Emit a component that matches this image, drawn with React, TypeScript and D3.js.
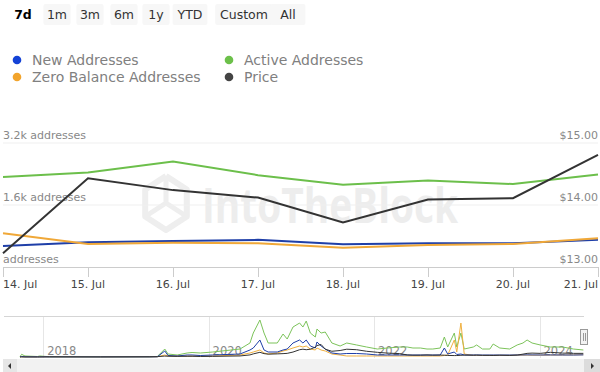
import React from 'react';
import * as d3 from 'd3';

// range selector
const rangeButtons = ['7d', '1m', '3m', '6m', '1y', 'YTD', 'Custom', 'All'];
const rangeButtonX = [23, 57, 90, 124, 156, 190, 244, 288];

// main chart (last 7 days)
const days = ['2024-07-14', '2024-07-15', '2024-07-16', '2024-07-17', '2024-07-18', '2024-07-19', '2024-07-20', '2024-07-21'];
const newAddresses = [540, 640, 670, 700, 590, 610, 610, 700];
const activeAddresses = [2320, 2440, 2720, 2370, 2120, 2230, 2140, 2390];
const zeroBalanceAddresses = [870, 595, 625, 610, 500, 570, 595, 740];
const price = [13.22, 14.43, 14.24, 14.12, 13.72, 14.09, 14.11, 14.81];

const addrTicks = [0, 1600, 3200];
const addrTickLabels = ['addresses', '1.6k addresses', '3.2k addresses'];
const priceTicks = [13, 14, 15];

// navigator (full history), decimal years
const navYears = [2017.72, 2017.74, 2017.78, 2017.93, 2017.96, 2018.08, 2018.69, 2019.29, 2019.38, 2019.47, 2019.51, 2019.62, 2019.74, 2019.8, 2019.9,
  2020.05, 2020.38, 2020.5, 2020.54, 2020.62, 2020.67, 2020.72, 2020.83, 2020.9, 2020.95, 2021.02, 2021.1, 2021.14, 2021.18, 2021.23,
  2021.29, 2021.31, 2021.36, 2021.41, 2021.49, 2021.59, 2021.67, 2021.79, 2021.91, 2022.04, 2022.16, 2022.31, 2022.4, 2022.47, 2022.56,
  2022.64, 2022.71, 2022.8, 2022.85, 2022.89, 2022.97, 2023.0, 2023.05, 2023.09, 2023.2, 2023.24, 2023.31, 2023.4, 2023.44, 2023.52,
  2023.64, 2023.73, 2023.8, 2023.85, 2023.91, 2024.01, 2024.13, 2024.28, 2024.41, 2024.53];
const navActive = [100, 880, 330, 160, 330, 60, 60, 80, 160, 2620, 980, 660, 1310, 1480, 1310,
  1640, 2620, 4590, 7870, 12140, 7870, 4590, 4590, 7540, 5900, 9840, 11150, 9840, 11800, 7870,
  6560, 9180, 7870, 8200, 4590, 3610, 4590, 3940, 3280, 2620, 2950, 3280, 3280, 2950, 2950,
  2620, 2620, 2950, 6560, 3280, 7870, 3280, 7870, 2620, 3280, 3940, 2620, 2620, 4260, 2950,
  2620, 3940, 4590, 5580, 4590, 3940, 3280, 3280, 2620, 2300];
const navNew = [30, 160, 60, 40, 50, 30, 30, 40, 60, 1970, 490, 330, 660, 660, 490,
  660, 980, 2300, 2950, 5580, 2300, 1640, 1640, 2300, 2620, 4590, 5580, 4590, 5580, 3610,
  2950, 4920, 3610, 2620, 1310, 980, 1150, 1150, 980, 660, 660, 660, 650, 640, 650,
  640, 650, 660, 2950, 980, 1640, 820, 980, 660, 650, 660, 640, 650, 660, 640,
  650, 660, 680, 700, 680, 660, 680, 660, 650, 700];
const navZero = [40, 60, 50, 40, 50, 40, 40, 60, 80, 650, 330, 330, 330, 330, 330,
  330, 650, 1310, 1640, 2300, 1310, 980, 1310, 1970, 2300, 2950, 3610, 3280, 3610, 2620,
  2300, 2950, 2300, 1970, 980, 650, 330, 330, 330, 330, 330, 330, 330, 330, 330,
  330, 330, 330, 490, 650, 5580, 1640, 11150, 980, 500, 520, 500, 540, 560, 520,
  560, 600, 620, 640, 600, 620, 640, 660, 700, 740];
const navPrice = [0.2, 0.3, 0.2, 0.15, 0.3, 1.0, 0.45, 1.0, 1.5, 3.5, 3.0, 2.5, 2.6, 2.8, 2.0,
  2.5, 4.0, 8, 12, 18, 13, 11, 12, 13, 14, 19, 28, 30, 28, 30,
  38, 44, 48, 30, 22, 25, 30, 28, 22, 18, 15, 13, 8, 7, 7,
  8, 7, 7.5, 7, 6, 5.5, 5.6, 6.5, 7.2, 7, 7.5, 6.5, 6.2, 5.8, 7,
  6, 7.5, 11, 14, 15, 14, 18, 15, 14, 14];
const navYearTicks = [2018, 2020, 2022, 2024];

const legendItems = [
  { name: 'New Addresses', color: '#1442d6' },
  { name: 'Active Addresses', color: '#6cc04a' },
  { name: 'Zero Balance Addresses', color: '#f2a42c' },
  { name: 'Price', color: '#444444' },
];

const FONT = '"DejaVu Sans", Verdana, sans-serif';

const App = () => {
  const width = 600;
  const height = 372;

  const x = d3.scaleTime()
    .domain([new Date(days[0]), new Date(days[days.length - 1])])
    .range([3, 598]);
  const yAddr = d3.scaleLinear().domain([0, 3200]).range([267, 143]);
  const yPrice = d3.scaleLinear().domain([13, 15]).range([267, 143]);

  const addrLine = (values: number[]) => d3.line<number>()
    .x((_, i) => x(new Date(days[i])))
    .y(d => yAddr(d))(values);
  const priceLine = d3.line<number>()
    .x((_, i) => x(new Date(days[i])))
    .y(d => yPrice(d))(price);

  const navX = d3.scaleLinear().domain([2017.72, 2024.55]).range([20, 585]);
  const navY = d3.scaleLinear().domain([0, 12800]).range([357, 318]);
  const navYPrice = d3.scaleLinear().domain([0, 150]).range([357, 318]);
  const navLine = (values: number[], yScale) => d3.line<number>()
    .x((_, i) => navX(navYears[i]))
    .y(d => yScale(d))(values);

  // watermark hexagon
  const hex = d3.range(6).map(i => {
    const a = Math.PI / 3 * i - Math.PI / 2;
    return [166 + 24 * Math.cos(a), 203 + 27 * Math.sin(a)] as [number, number];
  });

  return (
    <svg width={width} height={height} style={{ position: 'absolute', left: 0, top: 0, background: '#fff' }} fontFamily={FONT}>
      {/* range selector */}
      {rangeButtons.map((b, i) => i > 0 && (
        <rect key={b} x={rangeButtonX[i] - (b.length * 3.8 + 6)} y={4} width={b.length * 7.6 + 12} height={21} fill="#f7f7f7" rx={2} />
      ))}
      {rangeButtons.map((b, i) => (
        <text key={b} x={rangeButtonX[i]} y={18.5} textAnchor="middle" fontSize={12.5}
          fontWeight={i === 0 ? 'bold' : 'normal'} fill={i === 0 ? '#000' : '#333'}>{b}</text>
      ))}

      {/* legend */}
      {legendItems.map((item, i) => {
        const lx = i % 2 === 0 ? 17 : 229;
        const ly = i < 2 ? 60 : 77;
        return (
          <g key={item.name}>
            <circle cx={lx} cy={ly} r={4.3} fill={item.color} />
            <text x={lx + 15} y={ly + 5} fontSize={14} fill="#808080">{item.name}</text>
          </g>
        );
      })}

      {/* watermark */}
      <g>
        <path d={d3.line()(hex.concat([hex[0]])) || ''} fill="none" stroke="#eeeeee" strokeWidth={6} strokeLinejoin="round" />
        <path d={`M${hex[0][0]},${hex[0][1]} L${166},${203} L${hex[2][0]},${hex[2][1]} M166,203 L${hex[4][0]},${hex[4][1]}`}
          fill="none" stroke="#eeeeee" strokeWidth={5} />
        <text x={202} y={223} fontSize={48} fontWeight="bold" fill="#ededed" textLength={256} lengthAdjust="spacingAndGlyphs"
          fontFamily='"Open Sans", "DejaVu Sans", sans-serif'>IntoTheBlock</text>
      </g>

      {/* gridlines */}
      {addrTicks.slice(1).map(t => (
        <line key={t} x1={3} x2={598} y1={yAddr(t)} y2={yAddr(t)} stroke="#efefef" strokeWidth={1} />
      ))}
      <line x1={3} x2={598} y1={267.5} y2={267.5} stroke="#cccccc" />
      {days.map(d => (
        <line key={d} x1={Math.round(x(new Date(d))) + 0.5} x2={Math.round(x(new Date(d))) + 0.5} y1={267} y2={277} stroke="#cccccc" />
      ))}

      {/* axis labels */}
      {addrTicks.map((t, i) => (
        <text key={t} x={3} y={yAddr(t) - 4} fontSize={11} fill="#888">{addrTickLabels[i]}</text>
      ))}
      {priceTicks.map(t => (
        <text key={t} x={598} y={yPrice(t) - 4} fontSize={11} fill="#888" textAnchor="end">{`$${t.toFixed(2)}`}</text>
      ))}
      {days.map((d, i) => {
        const dt = new Date(d);
        const anchor = i === 0 ? 'start' : i === days.length - 1 ? 'end' : 'middle';
        return (
          <text key={d} x={x(dt)} y={288} fontSize={11} fill="#444" textAnchor={anchor}>
            {`${d3.timeFormat('%-d')(dt)}. Jul`}
          </text>
        );
      })}

      {/* series */}
      <path d={addrLine(newAddresses) || ''} fill="none" stroke="#1f3fa8" strokeWidth={2} />
      <path d={addrLine(activeAddresses) || ''} fill="none" stroke="#6cbf4b" strokeWidth={2} />
      <path d={addrLine(zeroBalanceAddresses) || ''} fill="none" stroke="#f0a838" strokeWidth={2} />
      <path d={priceLine || ''} fill="none" stroke="#333333" strokeWidth={2} />

      {/* navigator */}
      <line x1={4} x2={584} y1={316.5} y2={316.5} stroke="#d5d5d5" />
      {navYearTicks.map(yr => (
        <g key={yr}>
          <line x1={Math.round(navX(yr)) + 0.5} x2={Math.round(navX(yr)) + 0.5} y1={317} y2={358} stroke="#e6e6e6" />
          <text x={navX(yr) + 4} y={355} fontSize={11.5} fill="#888">{yr}</text>
        </g>
      ))}
      <path d={navLine(navActive, navY) || ''} fill="none" stroke="#7cc35a" strokeWidth={1} />
      <path d={navLine(navZero, navY) || ''} fill="none" stroke="#f0b040" strokeWidth={1} />
      <path d={navLine(navNew, navY) || ''} fill="none" stroke="#1f3fa8" strokeWidth={1} />
      <path d={navLine(navPrice, navYPrice) || ''} fill="none" stroke="#333" strokeWidth={1} />

      {/* navigator handle */}
      <rect x={580.5} y={329.5} width={7} height={15} fill="#f2f2f2" stroke="#999" />
      <line x1={583.5} x2={583.5} y1={333} y2={341} stroke="#999" />
      <line x1={585.5} x2={585.5} y1={333} y2={341} stroke="#999" />

      {/* scrollbar */}
      <rect x={3} y={359} width={597} height={14} fill="#f2f2f2" />
      <rect x={3} y={359} width={14} height={14} fill="#e6e6e6" />
      <path d="M11,363 L8,366 L11,369 Z" fill="#333" />
      <rect x={584} y={359} width={16} height={14} fill="#dcdcdc" />
      <path d="M591,363 L594,366 L591,369 Z" fill="#333" />
    </svg>
  );
};

export default App;
